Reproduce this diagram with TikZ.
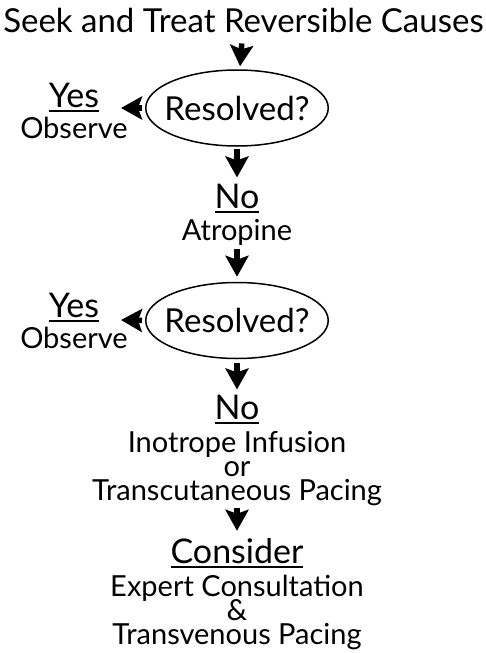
\documentclass[tikz,border=0pt]{standalone}
\usepackage{fontspec}
\setmainfont{Lato}
\usepackage{tikz}
\usetikzlibrary{positioning,arrows.meta,shapes.geometric,calc}
\newcommand{\ulhead}[1]{\setbox0=\hbox{#1}\leavevmode\rlap{\copy0}\raisebox{-4.5pt}{\rule{\wd0}{2pt}}}
\tikzset{
  lead/.style={font=\fontsize{33}{36}\selectfont,inner sep=0pt},
  headword/.style={font=\fontsize{34}{36}\selectfont,inner sep=0pt},
  plain/.style={font={\fontsize{29}{24}\selectfont\setlength{\lineskiplimit}{-20pt}},align=center,inner sep=0pt},
  query/.style={ellipse,draw,line width=1.5pt,minimum width=176pt,minimum height=76pt,inner xsep=-8pt,inner ysep=0pt,font=\fontsize{33}{36}\selectfont},
  edge/.style={-{Stealth[length=21pt,width=23pt,inset=4pt]},line width=5.5pt,shorten <=4pt,shorten >=4pt}
}

\begin{document}
\begin{tikzpicture}[x=1pt,y=-1pt]
  \useasboundingbox[fill=white] (0,0) rectangle (486,653);

  \node[lead,anchor=base] (cause) at (243.5,32) {Seek and Treat Reversible Causes};
  \node[query] (res1) at (237,108) {Resolved?};
  \node[headword,anchor=base] (yes1) at (74,107) {\ulhead{Yes}};
  \node[plain,anchor=base] (obs1) at (74,138) {Observe};
  \coordinate (tip1) at (121,108);
  \node[headword,anchor=base] (no1) at (237,208) {\ulhead{No}};
  \node[plain,anchor=base] (atro) at (237,240) {Atropine};
  \node[query] (res2) at (237,320.5) {Resolved?};
  \node[headword,anchor=base] (yes2) at (74,317) {\ulhead{Yes}};
  \node[plain,anchor=base] (obs2) at (74,348) {Observe};
  \coordinate (tip2) at (121,320);
  \node[headword,anchor=base] (no2) at (237,419) {\ulhead{No}};
  \node[plain,anchor=north] (pace1) at (237,431) {Inotrope Infusion\\or\\Transcutaneous Pacing};
  \node[headword,anchor=base] (cons) at (237,563) {\ulhead{Consider}};
  \node[plain,anchor=north] (pace2) at (237,575) {Expert Consultation\\\&\\Transvenous Pacing};

  \draw[edge,shorten <=11pt,shorten >=3pt] (cause) -- (res1);
  \draw[edge,shorten <=2pt,shorten >=6pt] (res1) -- (no1);
  \draw[edge,shorten >=5pt] (atro) -- (res2);
  \draw[edge,shorten <=4pt,shorten >=5pt] (res2) -- (no2);
  \draw[edge,shorten <=2pt,shorten >=7pt] (pace1) -- (cons);
  \draw[edge,shorten <=3pt,shorten >=0pt] (res1.west) -- (tip1);
  \draw[edge,shorten <=3pt,shorten >=0pt] (res2.west) -- (tip2);
\end{tikzpicture}
\end{document}
